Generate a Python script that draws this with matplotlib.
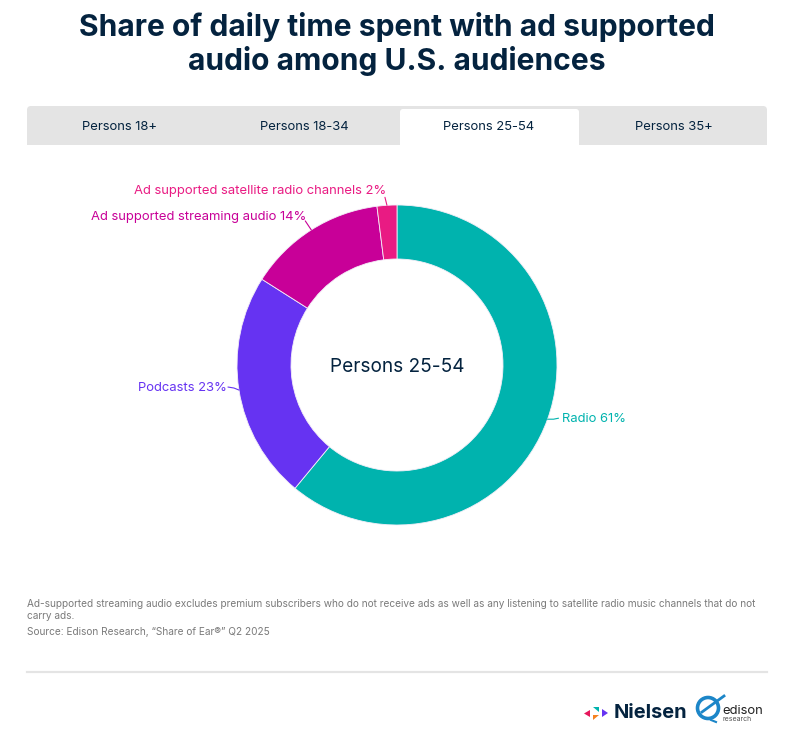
import numpy as np
import matplotlib
matplotlib.use("Agg")
import matplotlib.pyplot as plt
from matplotlib.patches import FancyBboxPatch, Rectangle, Polygon, Ellipse

plt.rcParams['font.family'] = ['Inter', 'DejaVu Sans']

W, H = 788, 736
NAVY = "#04233f"

categories = ["Radio", "Podcasts", "Ad supported streaming audio", "Ad supported satellite radio channels"]
values = [61, 23, 14, 2]
colors = ["#00b3ae", "#6633f2", "#c80098", "#e91b83"]
tabs = ["Persons 18+", "Persons 18-34", "Persons 25-54", "Persons 35+"]
active_tab = 2
title = "Share of daily time spent with ad supported\naudio among U.S. audiences"
notes = ("Ad-supported streaming audio excludes premium subscribers who do not receive ads as well as any listening to satellite radio music channels that do not\n"
         "carry ads.")
source = "Source: Edison Research, \u201cShare of Ear\u00ae\u201d Q2 2025"

fig = plt.figure(figsize=(W/100, H/100), dpi=100, facecolor="white")
bg = fig.add_axes([0, 0, 1, 1])
bg.set_xlim(0, W); bg.set_ylim(H, 0); bg.axis("off")

def px(s):
    return s * 0.72

bg.text(397, 44, title, ha="center", va="center", fontsize=px(30), fontweight="bold",
        color=NAVY, linespacing=1.16)

# tab bar
bg.add_patch(FancyBboxPatch((27, 106), 740, 39, boxstyle="round,pad=0,rounding_size=4",
                            fc="#e4e4e4", ec="none"))
bg.add_patch(Rectangle((27, 125), 740, 20, fc="#e4e4e4", ec="none"))
tab_x = [120, 304.5, 489, 674]
for i, (t, x) in enumerate(zip(tabs, tab_x)):
    if i == active_tab:
        bg.add_patch(FancyBboxPatch((400, 109), 179, 36, boxstyle="round,pad=0,rounding_size=3",
                                    fc="white", ec="none"))
        bg.add_patch(Rectangle((400, 125), 179, 20, fc="white", ec="none"))
    bg.text(x, 126.5, t, ha="center", va="center", fontsize=px(13), color=NAVY)

# donut
cx, cy, R, r = 397, 365, 160, 106
ax = fig.add_axes([(cx-R-40)/W, 1-(cy+R+40)/H, (2*R+80)/W, (2*R+80)/H])
ax.pie(values, colors=colors, startangle=90, counterclock=False, radius=R,
       wedgeprops=dict(width=R-r, edgecolor="#f4eef8", linewidth=0.6),
       center=(0, 0), frame=False)
ax.set_xlim(-200, 200); ax.set_ylim(-200, 200); ax.axis("off")
ax.text(0, -2, tabs[active_tab], ha="center", va="center", fontsize=px(19), color=NAVY)

# labels with leader lines, placed from each wedge's mid angle
offsets = {
    0: dict(elbow=(6, 0), end=(11, -1), text=(14, 0), ha="left"),
    1: dict(elbow=(-5, -2), end=(-11, -3), text=(-12, -2), ha="right"),
    2: dict(elbow=(-4, -6), end=(-6, -9), text=(-5, -13), ha="right"),
    3: dict(elbow=(-1, -4), end=(-2, -8), text=(-1, -14), ha="right"),
}
cum = np.cumsum([0] + values)
total = sum(values)
for i, (c, v, col) in enumerate(zip(categories, values, colors)):
    a = 2*np.pi*(cum[i] + v/2)/total
    x0, y0 = R*np.sin(a), R*np.cos(a)
    o = offsets[i]
    ax.plot([x0, x0+o["elbow"][0], x0+o["end"][0]],
            [y0, y0-o["elbow"][1], y0-o["end"][1]],
            color=col, lw=0.8, clip_on=False, solid_capstyle="round")
    ax.text(x0+o["text"][0], y0-o["text"][1], f"{c} {v}%", ha=o["ha"], va="center",
            fontsize=px(13), color=col, clip_on=False)

# footnotes
bg.text(27, 610, notes, ha="left", va="center", fontsize=px(10.05), color="#7a7a7a", linespacing=1.27)
bg.text(27, 632, source, ha="left", va="center", fontsize=px(10.05), color="#7a7a7a")
bg.plot([27, 767], [672, 672], color="#e4e4e4", lw=1.6)

# logos
bg.add_patch(Polygon([(584, 713.5), (590, 710), (590, 717)], fc="#e6175c", ec="none"))
bg.add_patch(Polygon([(593, 706.5), (599, 706.5), (599, 712)], fc="#00b3ae", ec="none"))
bg.add_patch(Polygon([(593, 720), (599, 715), (593, 715)], fc="#f58220", ec="none"))
bg.add_patch(Polygon([(602, 709), (608, 713), (602, 717)], fc="#6633f2", ec="none"))
bg.text(614, 713.5, "Nielsen", ha="left", va="center", fontsize=px(20), fontweight="bold", color=NAVY)
bg.add_patch(Ellipse((708, 708), 21, 21, fill=False, ec="#1c86c8", lw=2.6))
bg.plot([702, 724], [712, 696], color="#1c86c8", lw=2.0)
bg.plot([711, 716], [720, 722], color="#1c86c8", lw=1.5)
bg.text(722, 710.5, "edison", ha="left", va="center", fontsize=px(13), color="#222222")
bg.text(723, 719, "research", ha="left", va="center", fontsize=px(7), color="#555555")

fig.savefig("out.png", dpi=100, facecolor="white")
